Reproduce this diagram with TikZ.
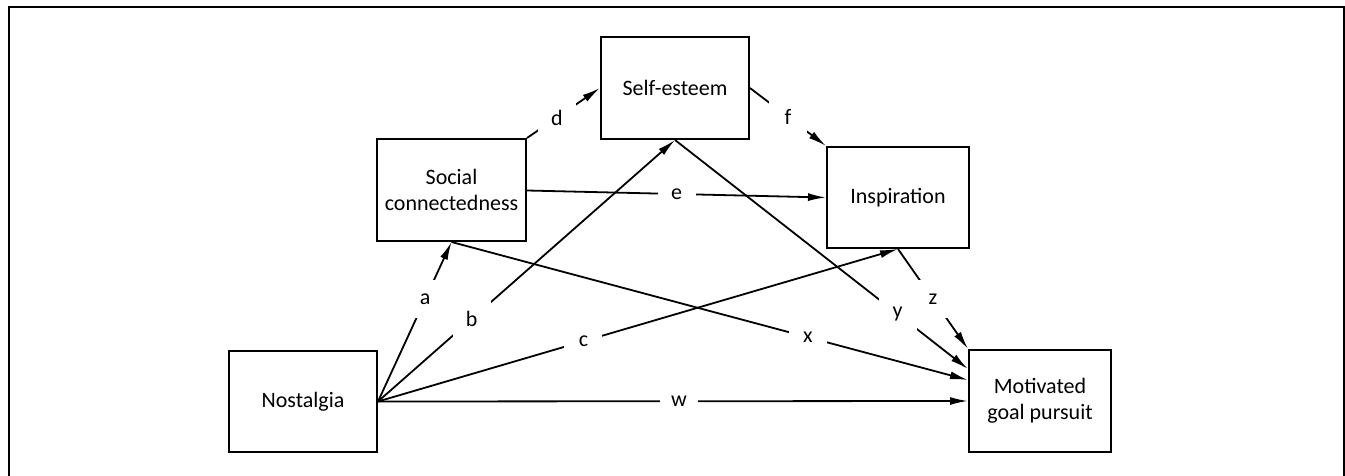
\documentclass[tikz,border=0pt]{standalone}
\usepackage{fontspec}
\setmainfont{Carlito}
\usetikzlibrary{arrows.meta}
\begin{document}
\begin{tikzpicture}[x=1pt,y=-1pt,
  box/.style={draw,line width=2pt,minimum width=148pt,minimum height=102pt,inner sep=0pt,align=center,font=\fontsize{22}{26.5}\selectfont},
  link/.style={line width=1.8pt,-{Latex[length=18pt,width=8pt]}},
  lab/.style={fill=white,inner sep=0pt,minimum width=38pt,minimum height=38pt,font=\fontsize{22}{26}\selectfont},
  frame/.style={line width=2pt}]
\useasboundingbox (0,0) rectangle (1345,476);
\coordinate (f1) at (8.5,476);
\coordinate (f2) at (8.5,7.5);
\coordinate (f3) at (1344,7.5);
\coordinate (f4) at (1344,476);
\draw[frame] (f1) -- (f2) -- (f3) -- (f4);

\node[box] (self) at (675,88) {Self-esteem};
\node[box,minimum width=149pt] (soc) at (451.5,190) {Social\\connectedness};
\node[box,minimum width=142pt,minimum height=101pt] (insp) at (898,197.5) {Inspiration};
\node[box,minimum width=142pt] (mot) at (1040,401) {Motivated\\goal pursuit};
\node[box,minimum height=101pt] (nost) at (303,401.5) {Nostalgia};

\coordinate (mx) at ([yshift=21pt]mot.west);
\coordinate (my) at ([yshift=32pt]mot.west);

\draw[link] (nost.east) -- node[lab,pos=0.64] {a} (soc.south);
\draw[link] (nost.east) -- node[lab,pos=0.315] {b} (self.south);
\draw[link] (nost.east) -- node[lab,pos=0.395] {c} (insp.south);
\draw[link] (nost.east) -- node[lab,pos=0.51] {w} (mot.west);
\draw[link] (soc.north east) -- node[lab,pos=0.41] {d} (self.west);
\draw[link] ([yshift=-0.5pt]soc.east) -- node[lab,pos=0.5] {e} (insp.west);
\draw[link] (self.east) -- node[lab,pos=0.5] {f} (insp.north west);
\draw[link] (soc.south) -- node[lab,pos=0.69] {x} (mx);
\draw[link] (self.south) -- node[lab,pos=0.76] {y} (my);
\draw[link] (insp.south) -- node[lab,pos=0.5] {z} (mot.north west);
\end{tikzpicture}
\end{document}
